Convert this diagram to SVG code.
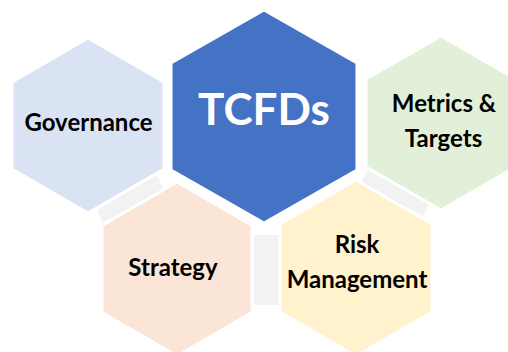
<svg xmlns="http://www.w3.org/2000/svg" width="508" height="352" viewBox="0 0 508 352">
  <style>
    .hex { stroke: #ffffff; stroke-width: 3; stroke-linejoin: miter; }
    .conn { fill: #f2f2f2; }
    .lbl { font-family: Lato, "Open Sans", "Liberation Sans", sans-serif; font-weight: bold; font-size: 24px; fill: #000000; text-anchor: middle; }
    .title { font-family: Lato, "Open Sans", "Liberation Sans", sans-serif; font-weight: bold; font-size: 44px; fill: #ffffff; text-anchor: middle; }
  </style>
  <rect width="508" height="352" fill="#ffffff"/>
  <g id="connectors">
    <polygon class="conn" points="97,210 103,223 163,189 157,175"/>
    <rect class="conn" x="254" y="235" width="25" height="70"/>
    <polygon class="conn" points="367,170 362,183 423,216 430,203"/>
  </g>
  <g id="governance">
    <polygon class="hex" fill="#dae3f3" points="88,38 164,82 164,169 88,213 12,169 12,82"/>
    <text class="lbl" x="88.5" y="131">Governance</text>
  </g>
  <g id="metrics-targets">
    <polygon class="hex" fill="#e2f0d9" points="441,36 516,79 516,167 441,210 366,167 366,79"/>
    <text class="lbl" x="444" y="112">Metrics &amp;</text>
    <text class="lbl" x="443.5" y="147">Targets</text>
  </g>
  <g id="strategy">
    <polygon class="hex" fill="#fbe5d6" points="177,182 252,225.5 252,312.5 177,356 102,312.5 102,225.5"/>
    <text class="lbl" x="173" y="276">Strategy</text>
  </g>
  <g id="risk-management">
    <polygon class="hex" fill="#fff2cc" points="356,180 432,224 432,312 356,356 280,312 280,224"/>
    <text class="lbl" x="357" y="253">Risk</text>
    <text class="lbl" x="357" y="288">Management</text>
  </g>
  <g id="tcfds">
    <polygon class="hex" fill="#4472c4" points="264,10 357,63 357,170 264,223 171,170 171,63"/>
    <text class="title" x="264" y="125">TCFDs</text>
  </g>
</svg>
